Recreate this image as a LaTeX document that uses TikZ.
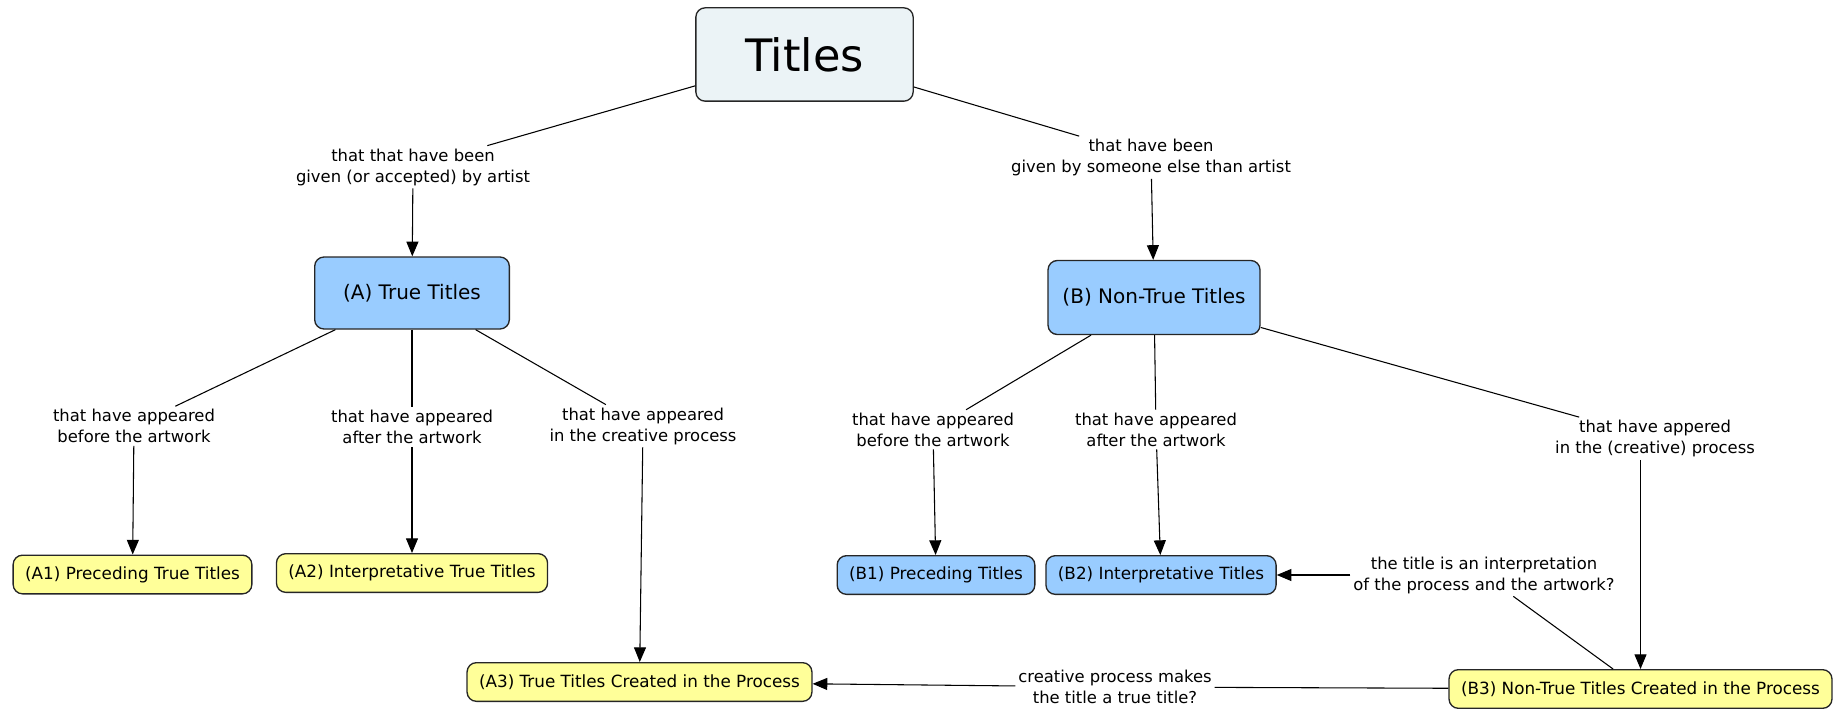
\documentclass[tikz,border=0pt]{standalone}
\usepackage{fontspec}
\setmainfont{DejaVu Sans}
\usepackage{tikz}
\usetikzlibrary{arrows.meta}
\definecolor{pale}{HTML}{EBF3F6}
\definecolor{bleu}{HTML}{99CCFF}
\definecolor{jaune}{HTML}{FFFF99}
\tikzset{maintitle/.style={
    draw=black!85,
    line width=1pt,
    fill=pale,
    rounded corners=7pt,
    minimum width=163pt,
    minimum height=70pt,
    font=\fontsize{33.5}{40}\selectfont}}
\tikzset{branch/.style={
    draw=black!85,
    line width=1pt,
    fill=bleu,
    rounded corners=7pt,
    minimum height=54pt,
    font=\fontsize{15}{18}\selectfont}}
\tikzset{leaf/.style={
    draw=black!85,
    line width=1pt,
    rounded corners=7pt,
    minimum height=29pt,
    inner xsep=9pt,
    font=\fontsize{12.6}{15}\selectfont}}
\tikzset{linklabel/.style={
    align=center,
    inner sep=2pt,
    font=\fontsize{12.3}{15.75}\selectfont}}
\tikzset{link/.style={
    draw=black,
    line width=0.8pt}}
\tikzset{arrowlink/.style={
    link,
    -{Triangle[length=11pt,width=9pt]}}}

\begin{document}
\begin{tikzpicture}[x=0.75pt,y=-0.75pt]
\useasboundingbox (0,0) rectangle (1840,709);
\coordinate (T) at (804.5,54.5);
\coordinate (A) at (412,293);
\coordinate (B) at (1154,297.5);
\coordinate (A1) at (132.5,574.5);
\coordinate (A2) at (412,573);
\coordinate (A3) at (639.5,682);
\coordinate (B1) at (936,575);
\coordinate (B2) at (1161,575);
\coordinate (B3) at (1640.5,689);

\node[maintitle] (titles) at (T) {Titles};
\node[branch,minimum width=146pt] (truet) at (A) {(A) True Titles};
\node[branch,minimum width=159pt,minimum height=55.5pt] (nontruet) at (B) {(B) Non-True Titles};

\node[leaf,fill=jaune] (a1) at (A1) {(A1) Preceding True Titles};
\node[leaf,fill=jaune] (a2) at (A2) {(A2) Interpretative True Titles};
\node[leaf,fill=jaune] (a3) at (A3) {(A3) True Titles Created in the Process};
\node[leaf,fill=bleu] (b1) at (B1) {(B1) Preceding Titles};
\node[leaf,fill=bleu] (b2) at (B2) {(B2) Interpretative Titles};
\node[leaf,fill=jaune] (b3) at (B3) {(B3) Non-True Titles Created in the Process};

\node[linklabel] (lga) at (413,167) {that that have been\\given (or accepted) by artist};
\node[linklabel] (lgb) at (1151,157.5) {that have been\\given by someone else than artist};
\node[linklabel] (la1) at (134,426) {that have appeared\\before the artwork};
\node[linklabel] (la2) at (412,427) {that have appeared\\after the artwork};
\node[linklabel] (la3) at (643,426) {that have appeared\\in the creative process};
\node[linklabel] (lb1) at (933,429.5) {that have appeared\\before the artwork};
\node[linklabel] (lb2) at (1156,429.5) {that have appeared\\after the artwork};
\node[linklabel] (lb3) at (1655,438.5) {that have appered\\in the (creative) process};
\node[linklabel] (linterp) at (1484,575) {the title is an interpretation\\of the process and the artwork?};
\node[linklabel] (ltrue) at (1115,687) {creative process makes\\the title a true title?};

\path[link] (titles) -- (lga);
\path[arrowlink] (lga) -- (truet);
\path[link] (titles) -- (lgb);
\path[arrowlink] (lgb) -- (nontruet);

\path[link] (truet) -- (la1);
\path[link] (truet) -- (la2);
\path[link] (truet) -- (la3);
\path[arrowlink] (la1) -- (a1);
\path[arrowlink] (la2) -- (a2);
\path[arrowlink] (la3) -- (a3);

\path[link] (nontruet) -- (lb1);
\path[link] (nontruet) -- (lb2);
\path[link] (nontruet) -- (lb3);
\path[arrowlink] (lb1) -- (b1);
\path[arrowlink] (lb2) -- (b2);
\path[arrowlink] (lb3.south -| b3) -- (b3);

\path[link] (b3) -- (linterp);
\path[arrowlink] (linterp) -- (b2);
\path[link] (b3) -- (ltrue);
\path[arrowlink] (ltrue) -- (a3);
\end{tikzpicture}
\end{document}
